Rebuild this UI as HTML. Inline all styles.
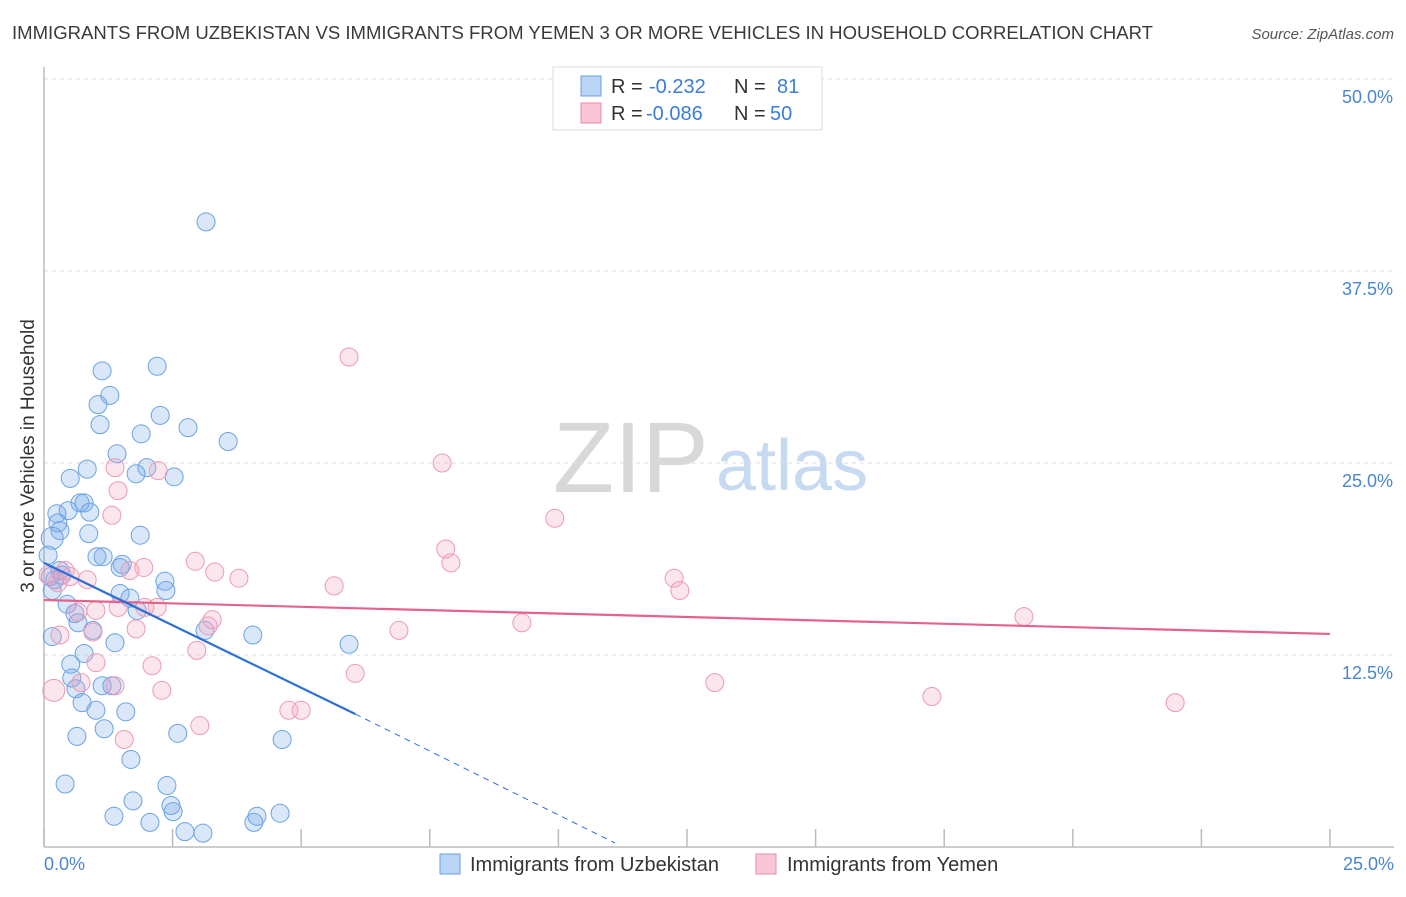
<!DOCTYPE html>
<html><head><meta charset="utf-8"><style>
body{margin:0;background:#fff;font-family:"Liberation Sans",sans-serif;}
svg text{font-family:"Liberation Sans",sans-serif;}
</style></head><body>
<svg id="chart" width="1406" height="892" xmlns="http://www.w3.org/2000/svg">
<text x="12" y="39" font-size="18" fill="#3a3a3a" textLength="1141" lengthAdjust="spacingAndGlyphs">IMMIGRANTS FROM UZBEKISTAN VS IMMIGRANTS FROM YEMEN 3 OR MORE VEHICLES IN HOUSEHOLD CORRELATION CHART</text>
<text x="1394" y="39" font-size="15" fill="#555" text-anchor="end" font-style="italic">Source: ZipAtlas.com</text>
<g>
<text x="553" y="492" font-size="100" fill="#d8d8d8" font-family="Liberation Serif, serif">ZIP</text>
<text x="716" y="490" font-size="72" fill="#c6daf2">atlas</text>
</g>
<g id="grid"></g>
<g id="axes"></g>
<g id="pts"></g>
<g id="trends"></g>
<text transform="translate(34,456) rotate(-90)" font-size="19" fill="#333" text-anchor="middle">3 or more Vehicles in Household</text>
<g>
<rect x="553" y="67" width="269" height="63" fill="#fff" stroke="#ddd"/>
<rect x="581" y="76" width="20" height="20" fill="#b9d4f5" stroke="#6aa0e0"/>
<rect x="581" y="103" width="20" height="20" fill="#f8c6d6" stroke="#e88aa8"/>
<text x="611" y="93" font-size="20" fill="#333">R =</text><text x="649" y="93" font-size="20" fill="#3b7dd8">-0.232</text>
<text x="734" y="93" font-size="20" fill="#333">N =</text><text x="777" y="93" font-size="20" fill="#3b7dd8">81</text>
<text x="611" y="120" font-size="20" fill="#333">R =</text><text x="646" y="120" font-size="20" fill="#3b7dd8">-0.086</text>
<text x="734" y="120" font-size="20" fill="#333">N =</text><text x="770" y="120" font-size="20" fill="#3b7dd8">50</text>
</g>
<g>
<rect x="440" y="854" width="20" height="20" fill="#b9d4f5" stroke="#6aa0e0"/>
<text x="470" y="871" font-size="20" fill="#333">Immigrants from Uzbekistan</text>
<rect x="756" y="854" width="20" height="20" fill="#f8c6d6" stroke="#e88aa8"/>
<text x="787" y="871" font-size="20" fill="#333">Immigrants from Yemen</text>
</g>
</svg>
<script>
const yTicks=[12.5,25,37.5,50];
const yTickLabels=["12.5%","25.0%","37.5%","50.0%"];
const xTicks=[0,2.5,5,7.5,10,12.5,15,17.5,20,22.5,25];
const xTickLabels=["0.0%","25.0%"];
const blueX=[3.15,2.20,1.13,1.28,1.05,2.26,2.80,1.09,1.89,3.58,1.42,0.84,2.00,0.51,1.79,2.53,0.70,0.78,0.25,0.47,0.89,0.27,0.31,0.16,1.87,0.87,1.03,1.15,1.48,0.31,0.12,0.16,2.35,2.37,1.48,1.67,1.81,0.45,0.66,0.60,0.95,0.16,1.38,3.13,4.06,5.93,0.78,0.52,0.54,0.62,1.32,1.13,0.74,1.01,1.59,1.17,0.64,2.60,4.63,1.69,2.39,0.41,1.73,2.47,2.51,1.36,2.06,4.08,4.14,4.59,2.74,3.09,0.21,0.08,0.35,1.52];
const blueY=[40.7,31.3,31.0,29.4,28.8,28.1,27.3,27.5,26.9,26.4,25.6,24.6,24.7,24.0,24.3,24.1,22.4,22.4,21.7,21.9,21.8,21.1,20.6,20.1,20.3,20.4,18.9,18.9,18.2,18.0,17.6,16.7,17.3,16.7,16.5,16.2,15.4,15.8,14.6,15.2,14.1,13.7,13.3,14.1,13.8,13.2,12.6,11.9,11.0,10.3,10.5,10.5,9.4,8.9,8.8,7.7,7.2,7.4,7.0,5.7,4.0,4.1,3.0,2.7,2.3,2.0,1.6,1.6,2.0,2.2,1.0,0.9,17.4,19.0,17.7,18.4];
const pinkX=[5.93,7.74,1.38,2.22,1.44,1.32,9.93,7.81,7.91,2.94,1.94,1.67,3.32,3.79,12.25,5.64,12.36,0.51,0.27,1.01,0.66,1.44,2.20,1.96,3.27,3.19,9.29,6.90,0.95,1.79,0.31,19.05,2.97,1.01,2.10,6.05,0.72,1.38,2.29,13.04,17.26,21.99,0.19,4.76,5.00,3.03,1.56,0.08,0.41,0.84];
const pinkY=[31.9,25.0,24.7,24.5,23.2,21.6,21.4,19.4,18.5,18.6,18.2,18.0,17.9,17.5,17.5,17.0,16.7,17.6,17.2,15.4,15.3,15.6,15.6,15.6,14.8,14.4,14.6,14.1,14.0,14.2,13.8,15.0,12.8,12.0,11.8,11.3,10.7,10.5,10.2,10.7,9.8,9.4,10.2,8.9,8.9,7.9,7.0,17.7,18.0,17.4];
const blueTrendSolid=[[0,18.5],[6.05,8.66]];
const blueTrendDash=[[6.05,8.66],[11.1,0.26]];
const pinkTrend=[[0,16.08],[25,13.87]];
const NS="http://www.w3.org/2000/svg";
const sx=v=>44+v/25*1286;
const sy=v=>847-v/12.5*192;
function mk(tag,attrs,parent){const e=document.createElementNS(NS,tag);for(const k in attrs)e.setAttribute(k,attrs[k]);parent.appendChild(e);return e;}
const grid=document.getElementById('grid'),axes=document.getElementById('axes'),pts=document.getElementById('pts'),tr=document.getElementById('trends');
yTicks.forEach((t,i)=>{
 const l=mk('line',{x1:44,x2:1394,y1:sy(t),y2:sy(t),stroke:'#dedede','stroke-dasharray':'4,4'},grid);
 
 
 const tx=mk('text',{x:1393,y:sy(t)+24,'font-size':18,fill:'#4a86d0','text-anchor':'end'},axes);
 tx.textContent=yTickLabels[i];
 
 
});
const ya=mk('line',{x1:44,x2:44,y1:67,y2:847,stroke:'#bbb','stroke-width':1.5},axes);


const xa=mk('line',{x1:44,x2:1394,y1:847,y2:847,stroke:'#bbb','stroke-width':1.5},axes);


xTicks.forEach(t=>{
 const l=mk('line',{x1:sx(t),x2:sx(t),y1:829,y2:847,stroke:'#bbb','stroke-width':1.5},axes);
 
 
});
const xl0=mk('text',{x:44,y:870,'font-size':18,fill:'#4a86d0'},axes);xl0.textContent=xTickLabels[0];


const xl1=mk('text',{x:1394,y:870,'font-size':18,fill:'#4a86d0','text-anchor':'end'},axes);xl1.textContent=xTickLabels[1];


function drawPts(X,Y,fill,stroke,name){X.forEach((x,i)=>{
 const r=(x<0.25&&(Y[i]>19.5||Y[i]<10.5))?11:9;
 const c=mk('circle',{cx:sx(x),cy:sy(Y[i]),r:r,fill:fill,stroke:stroke,'stroke-width':1},pts);
 
 
});}
drawPts(blueX,blueY,'rgba(120,170,235,0.28)','#6aa3e4','point-uzbekistan');
drawPts(pinkX,pinkY,'rgba(245,165,195,0.28)','#ec9ab6','point-yemen');
function line(p,stroke,w,dash,name){const a={x1:sx(p[0][0]),y1:sy(p[0][1]),x2:sx(p[1][0]),y2:sy(p[1][1]),stroke:stroke,'stroke-width':w};if(dash)a['stroke-dasharray']=dash;const l=mk('line',a,tr);
 
 }
line(pinkTrend,'#e4628c',2.2,null,'trend-yemen');
line(blueTrendSolid,'#2a70d6',2.2,null,'trend-uzbekistan');
line(blueTrendDash,'#2a70d6',1,'6,5','trend-uzbekistan-extrapolated');
</script>
</body></html>
